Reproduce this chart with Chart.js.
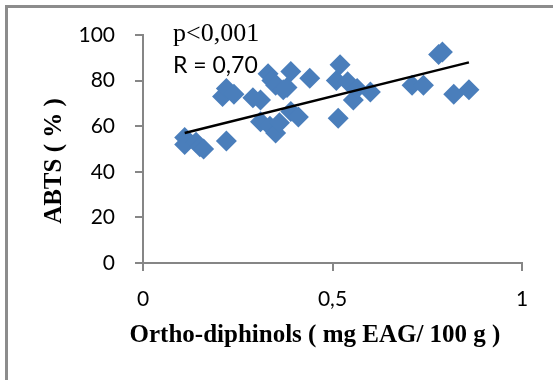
<!DOCTYPE html>
<html>
<head>
<meta charset="utf-8">
<script src="https://cdn.jsdelivr.net/npm/chart.js@4/dist/chart.umd.min.js"></script>
<style>
    html, body { margin: 0; padding: 0; background: #fff; }
    #wrap { width: 553px; height: 380px; position: relative; }
</style>
</head>
<body>
<div id="wrap"><canvas id="abtsChart" width="553" height="380"></canvas></div>
<script>
// Ortho-diphinols (mg EAG/100 g) vs ABTS (%)
const orthoValues = [0.11, 0.11, 0.14, 0.15, 0.16, 0.22, 0.21, 0.22, 0.24, 0.29, 0.31,
    0.33, 0.34, 0.35, 0.37, 0.38, 0.39, 0.44, 0.31, 0.335, 0.35, 0.36, 0.39, 0.41,
    0.51, 0.52, 0.54, 0.555, 0.565, 0.60, 0.515, 0.71, 0.74, 0.78, 0.79, 0.82, 0.86];
const abtsValues = [55, 52, 53, 51, 50, 53.5, 73, 76.5, 74, 72.5, 71.5,
    83, 80, 78, 76, 77, 84, 81, 62, 60, 57, 61.5, 66.5, 64,
    80, 87, 79.5, 71.5, 76.5, 75, 63.5, 78, 78, 91.5, 92.5, 74, 76];

// linear trend line end points
const trendX = [0.11, 0.86];
const trendY = [57, 88];

const xTickLabels = ['0', '0,5', '1'];
const yTickLabels = ['0', '20', '40', '60', '80', '100'];

const axisGray = '#868686';
const tickFont = { family: 'Lato', size: 21 };

// frame, axis titles and the p / R notes
const extrasPlugin = {
    id: 'extras',
    afterDraw(chart) {
        const ctx = chart.ctx;
        ctx.save();
        ctx.strokeStyle = '#8c8c8c';
        ctx.lineWidth = 3;
        ctx.beginPath();
        ctx.moveTo(6.5, 380);
        ctx.lineTo(6.5, 6.5);
        ctx.lineTo(553, 6.5);
        ctx.stroke();

        ctx.fillStyle = '#000';
        ctx.textAlign = 'center';
        ctx.textBaseline = 'alphabetic';
        ctx.font = 'bold 25px "Liberation Serif"';
        ctx.fillText('Ortho-diphinols ( mg EAG/ 100 g )', 315, 342);

        ctx.translate(61, 161);
        ctx.rotate(-Math.PI / 2);
        ctx.fillText('ABTS ( % )', 0, 0);
        ctx.restore();

        ctx.save();
        ctx.fillStyle = '#000';
        ctx.textAlign = 'left';
        ctx.textBaseline = 'alphabetic';
        ctx.font = '26px "Liberation Serif"';
        ctx.fillText('p<0,001', 173, 41);
        ctx.font = '23px Lato';
        ctx.fillText('R = 0,70', 173, 73);
        ctx.restore();
    }
};

const ctx = document.getElementById('abtsChart');
new Chart(ctx.getContext('2d'), {
    type: 'scatter',
    data: {
        datasets: [{
            type: 'line',
            label: 'Tendance',
            data: trendX.map((x, i) => ({ x: x, y: trendY[i] })),
            borderColor: '#000',
            borderWidth: 2.5,
            pointRadius: 0,
            fill: false
        }, {
            label: 'ABTS',
            data: orthoValues.map((x, i) => ({ x: x, y: abtsValues[i] })),
            pointStyle: 'rectRot',
            pointRadius: 10.5,
            backgroundColor: '#4a7ebb',
            borderColor: '#4a7ebb',
            borderWidth: 0
        }]
    },
    options: {
        responsive: false,
        animation: false,
        layout: { padding: { left: 0, top: 35, right: 31, bottom: 0 } },
        plugins: {
            legend: { display: false },
            tooltip: { enabled: false }
        },
        scales: {
            x: {
                type: 'linear',
                min: 0,
                max: 1,
                afterFit: scale => { scale.height = 117; },
                ticks: {
                    stepSize: 0.5,
                    color: '#000',
                    font: tickFont,
                    padding: 16,
                    callback: (value, index) => xTickLabels[index]
                },
                grid: { drawOnChartArea: false, drawTicks: true, tickLength: 8, color: axisGray, lineWidth: 2 },
                border: { color: axisGray, width: 2 }
            },
            y: {
                min: 0,
                max: 100,
                afterFit: scale => { scale.width = 143; },
                ticks: {
                    stepSize: 20,
                    color: '#000',
                    font: tickFont,
                    padding: 20,
                    callback: (value, index) => yTickLabels[index]
                },
                grid: { drawOnChartArea: false, drawTicks: true, tickLength: 8, color: axisGray, lineWidth: 2 },
                border: { color: axisGray, width: 2 }
            }
        }
    },
    plugins: [extrasPlugin]
});
</script>
</body>
</html>
